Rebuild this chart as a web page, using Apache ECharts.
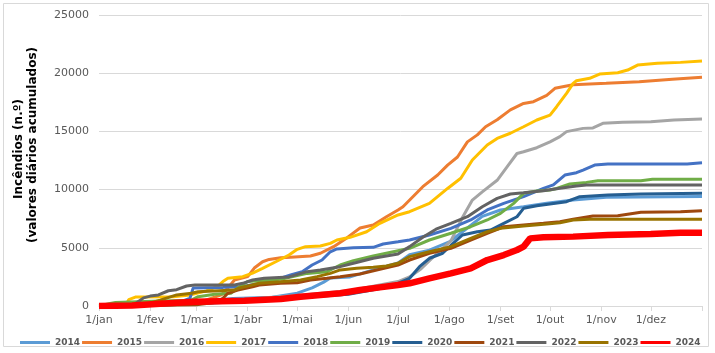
<!DOCTYPE html>
<html>
<head>
<meta charset="utf-8">
<title>Incêndios acumulados</title>
<script src="https://cdn.jsdelivr.net/npm/echarts@6/dist/echarts.min.js"></script>
<style>
  html, body { margin: 0; padding: 0; background: #fff; }
  #chart { width: 715px; height: 353px; }
</style>
</head>
<body>
<div id="chart"></div>
<script>
// eixo x: dia do ano (0 = 1/jan)
const monthStarts = [0, 31, 59, 90, 120, 151, 181, 212, 243, 273, 304, 334]
const monthLabels = ['1/jan', '1/fev', '1/mar', '1/abr', '1/mai', '1/jun', '1/jul', '1/ago', '1/set', '1/out', '1/nov', '1/dez']
const years = ['2014', '2015', '2016', '2017', '2018', '2019', '2020', '2021', '2022', '2023', '2024']
const colors = ['#5B9BD5', '#ED7D31', '#A5A5A5', '#FFC000', '#4472C4', '#70AD47', '#255E91', '#9E480E', '#636363', '#997300', '#FF0000']

// [dia, incêndios acumulados]
const s2014 = [[0, 0], [31, 150], [59, 350], [81, 650], [105, 750], [120, 1100], [129, 1550], [136, 2050], [140, 2400], [152, 2500], [166, 3100], [181, 3700], [188, 4400], [200, 4800], [212, 5500], [223, 6700], [232, 7700], [243, 8250], [257, 8530], [271, 8820], [287, 9100], [307, 9340], [365, 9400]]
const s2015 = [[0, 0], [31, 200], [62, 370], [74, 950], [78, 1550], [82, 2230], [90, 2520], [94, 3260], [99, 3800], [103, 4000], [110, 4150], [116, 4180], [128, 4300], [134, 4530], [142, 5100], [150, 5850], [158, 6700], [166, 6960], [174, 7670], [181, 8250], [184, 8530], [196, 10250], [205, 11250], [211, 12100], [217, 12800], [223, 14100], [229, 14700], [234, 15400], [241, 16000], [249, 16850], [257, 17400], [263, 17550], [271, 18100], [276, 18700], [283, 18900], [287, 19000], [307, 19130], [327, 19270], [347, 19470], [365, 19650]]
const s2016 = [[0, 0], [31, 100], [59, 300], [90, 600], [120, 900], [151, 1300], [181, 2100], [188, 2500], [195, 3200], [206, 4700], [213, 5600], [220, 7600], [226, 9100], [232, 9800], [241, 10800], [247, 11950], [253, 13100], [257, 13250], [265, 13600], [273, 14100], [279, 14550], [283, 14980], [293, 15260], [299, 15300], [305, 15690], [317, 15780], [334, 15830], [348, 15980], [365, 16060]]
const s2017 = [[0, 0], [16, 0], [18, 550], [22, 770], [45, 800], [55, 950], [65, 1300], [72, 1700], [75, 2100], [78, 2380], [87, 2520], [93, 2830], [99, 3240], [107, 3800], [115, 4380], [120, 4870], [125, 5100], [134, 5150], [140, 5380], [144, 5670], [152, 5900], [162, 6380], [170, 7100], [181, 7820], [188, 8100], [200, 8820], [211, 10100], [219, 10970], [226, 12540], [235, 13830], [241, 14400], [249, 14840], [257, 15400], [265, 15980], [273, 16400], [277, 17120], [283, 18270], [287, 19130], [289, 19350], [297, 19560], [303, 19930], [314, 20040], [320, 20270], [326, 20700], [338, 20850], [352, 20930], [365, 21050]]
const s2018 = [[0, 0], [31, 150], [50, 400], [55, 650], [57, 1550], [75, 1600], [86, 1660], [98, 1950], [110, 2380], [116, 2660], [123, 2950], [129, 3520], [135, 3950], [140, 4660], [144, 4900], [154, 5010], [166, 5040], [172, 5330], [181, 5520], [188, 5670], [200, 6100], [213, 6670], [225, 7390], [235, 8250], [245, 8820], [257, 9390], [269, 10100], [275, 10400], [282, 11250], [289, 11450], [293, 11680], [300, 12110], [308, 12200], [356, 12200], [365, 12300]]
const s2019 = [[0, 0], [6, 200], [10, 300], [32, 400], [56, 500], [60, 800], [70, 1000], [80, 1100], [84, 1550], [90, 2100], [110, 2300], [126, 2800], [138, 2950], [146, 3520], [154, 3900], [166, 4300], [181, 4750], [188, 4960], [200, 5670], [213, 6250], [225, 6810], [235, 7390], [243, 7960], [251, 8820], [257, 9680], [265, 9880], [273, 9960], [277, 10100], [285, 10480], [295, 10620], [302, 10760], [328, 10760], [335, 10880], [365, 10880]]
const s2020 = [[0, 0], [31, 50], [59, 200], [90, 400], [120, 700], [151, 1000], [166, 1400], [176, 1660], [182, 2000], [188, 2380], [194, 3380], [200, 4100], [208, 4530], [213, 5200], [220, 6100], [229, 6380], [237, 6530], [245, 7100], [253, 7670], [257, 8390], [265, 8620], [283, 8960], [291, 9390], [308, 9530], [328, 9620], [365, 9680]]
const s2021 = [[0, 0], [59, 100], [70, 300], [75, 660], [78, 1090], [84, 1370], [93, 1660], [97, 1800], [110, 1950], [120, 2000], [128, 2230], [138, 2380], [146, 2520], [158, 2750], [170, 3150], [181, 3520], [188, 3950], [200, 4530], [213, 4960], [225, 5670], [235, 6250], [245, 6810], [257, 6960], [269, 7100], [279, 7240], [287, 7450], [299, 7730], [314, 7760], [328, 8050], [352, 8100], [365, 8190]]
const s2022 = [[0, 0], [20, 0], [23, 300], [27, 700], [31, 850], [36, 950], [42, 1310], [47, 1400], [53, 1720], [58, 1800], [82, 1800], [87, 1950], [93, 2230], [100, 2380], [115, 2500], [126, 2950], [134, 3100], [146, 3380], [154, 3670], [166, 4100], [181, 4470], [188, 5100], [196, 5900], [204, 6600], [213, 7100], [223, 7670], [232, 8530], [241, 9250], [249, 9620], [257, 9730], [269, 9900], [279, 10110], [289, 10310], [295, 10390], [365, 10390]]
const s2023 = [[0, 0], [25, 0], [37, 500], [47, 950], [56, 1100], [60, 1230], [82, 1370], [85, 1550], [97, 1950], [110, 2090], [122, 2230], [132, 2520], [140, 2800], [146, 3100], [156, 3240], [166, 3320], [174, 3440], [181, 3670], [188, 4240], [200, 4660], [213, 5100], [225, 5810], [235, 6380], [243, 6670], [257, 6870], [271, 7040], [279, 7160], [287, 7390], [297, 7450], [365, 7450]]
const s2024 = [[0, 0], [20, 50], [37, 200], [58, 370], [88, 450], [110, 600], [122, 800], [134, 950], [146, 1090], [158, 1370], [170, 1600], [181, 1800], [188, 1950], [200, 2380], [213, 2800], [225, 3240], [235, 3950], [245, 4380], [253, 4810], [257, 5100], [261, 5810], [269, 5900], [287, 5960], [308, 6100], [334, 6180], [352, 6300], [365, 6300]]

const seriesData = [s2014, s2015, s2016, s2017, s2018, s2019, s2020, s2021, s2022, s2023, s2024]

const font = 'DejaVu Sans, Verdana, sans-serif'
const chart = echarts.init(document.getElementById('chart'))

const option = {
  animation: false,
  color: colors,
  textStyle: { fontFamily: font },
  grid: {
    left: 99,
    right: 13,
    top: 15,
    bottom: 47
  },
  xAxis: {
    type: 'value',
    min: 0,
    max: 365,
    splitLine: { show: false },
    axisLine: {
      lineStyle: { color: '#d9d9d9', width: 1 }
    },
    axisTick: {
      customValues: monthStarts.concat([365]),
      length: 5,
      lineStyle: { color: '#d9d9d9' }
    },
    axisLabel: {
      customValues: monthStarts,
      margin: 9,
      color: '#595959',
      fontSize: 11,
      fontFamily: font,
      formatter: value => monthLabels[monthStarts.indexOf(value)] || ''
    }
  },
  yAxis: {
    type: 'value',
    min: 0,
    max: 25000,
    interval: 5000,
    axisLine: { show: false },
    axisTick: { show: false },
    axisLabel: {
      margin: 10,
      color: '#595959',
      fontSize: 11,
      fontFamily: font,
      formatter: value => String(value)
    },
    splitLine: {
      lineStyle: { color: '#d9d9d9', width: 1 }
    }
  },
  legend: {
    data: years,
    left: 15,
    top: 333,
    icon: 'rect',
    itemWidth: 30,
    itemHeight: 3,
    itemGap: 2,
    textStyle: {
      color: '#595959',
      fontSize: 9,
      fontWeight: 'bold',
      fontFamily: font
    }
  },
  graphic: [
    {
      type: 'rect',
      shape: { x: 3.5, y: 3.5, width: 705, height: 343 },
      style: { fill: 'none', stroke: '#d9d9d9', lineWidth: 1 },
      silent: true,
      z: -1
    },
    {
      type: 'text',
      x: 18.5,
      y: 149,
      rotation: Math.PI / 2,
      style: {
        text: 'Incêndios (n.º)',
        fill: '#000',
        font: 'bold 12px ' + font,
        align: 'center',
        verticalAlign: 'middle'
      }
    },
    {
      type: 'text',
      x: 32.5,
      y: 145,
      rotation: Math.PI / 2,
      style: {
        text: '(valores diários acumulados)',
        fill: '#000',
        font: 'bold 12px ' + font,
        align: 'center',
        verticalAlign: 'middle'
      }
    }
  ],
  series: years.map((year, i) => ({
    name: year,
    type: 'line',
    data: seriesData[i],
    showSymbol: false,
    symbol: 'none',
    lineStyle: {
      width: year === '2024' ? 6.5 : 3,
      color: colors[i]
    },
    itemStyle: { color: colors[i] },
    z: 2 + i
  }))
}

chart.setOption(option)
</script>
</body>
</html>
